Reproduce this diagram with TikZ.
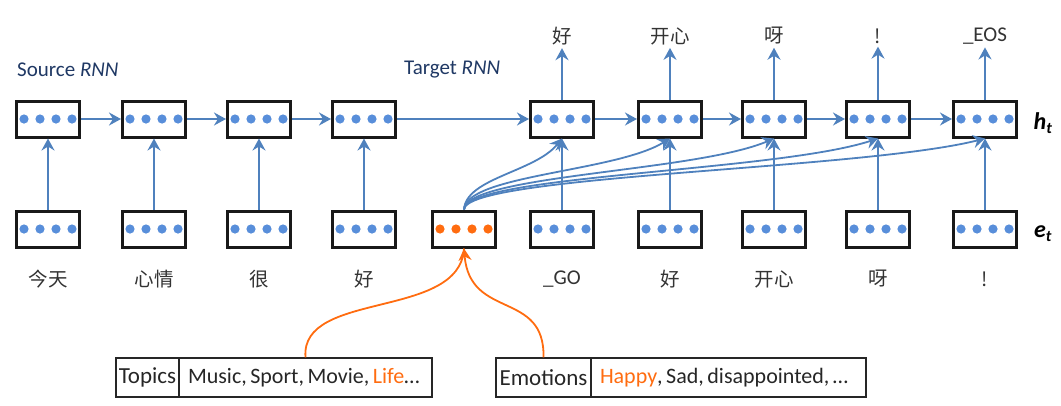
\documentclass[tikz,border=0pt]{standalone}
\usepackage{fontspec}
\setmainfont{Carlito}
\newfontfamily\cjk{Noto Sans CJK SC}
\usetikzlibrary{arrows.meta}
\definecolor{ablue}{RGB}{79,129,189}
\definecolor{dblue}{RGB}{88,142,218}
\definecolor{org}{RGB}{255,108,16}
\definecolor{navy}{RGB}{31,56,100}
\tikzset{
  cell/.style={draw=black!90, line width=3pt, minimum width=63pt, minimum height=36pt, inner sep=0pt, fill=white},
  arr/.style={draw=ablue, line width=2.4pt, -{Stealth[length=12pt,width=13pt,inset=4pt]}},
  farr/.style={draw=ablue, line width=1.8pt, -{Stealth[length=12pt,width=13pt,inset=4pt]}},
  oarr/.style={draw=org, line width=1.8pt, -{Stealth[length=12pt,width=13pt,inset=4pt]}},
  word/.style={font=\fontsize{19.5}{22}\selectfont\cjk, text=black!80, inner sep=3pt},
  lword/.style={font=\fontsize{21}{22}\selectfont, text=black!80, inner sep=3pt},
  lbl/.style={font=\fontsize{21}{24}\selectfont, text=navy, anchor=west, inner sep=0pt},
  side/.style={font=\fontsize{24}{26}\selectfont\bfseries\itshape, inner sep=0pt},
  tbox/.style={draw=black!85, line width=1.3pt, minimum height=39pt, inner sep=0pt, font=\fontsize{23}{26}\selectfont, text=black!85},
  vbox/.style={tbox, font=\fontsize{22}{26}\selectfont},
}
\newcommand\celldots[2]{\foreach \d in {-24,-8,8,24} \fill[#2] ([xshift=\d pt]#1.center) circle (4.6);}
\newcommand\lbox[2]{\makebox[#1][l]{\hspace{9pt}\spaceskip=0.16em plus 0pt #2}}
\begin{document}
\begin{tikzpicture}[x=1pt,y=-1pt]
\useasboundingbox (0,0) rectangle (1061,405);
% labels
\node[lbl] (srcl) at (17,70) {Source \textit{RNN}};
\node[lbl] (tgtl) at (404,70) {Target \textit{RNN}};
% source cells
\foreach \i/\x in {1/48,2/154,3/259,4/364}{
  \node[cell] (s\i) at (\x,119) {};
  \node[cell] (es\i) at (\x,229) {};
}
% target cells
\foreach \i/\x in {1/562,2/670,3/774,4/878,5/985}{
  \node[cell] (t\i) at (\x,119) {};
  \node[cell] (te\i) at (\x,229) {};
}
\node[cell] (o) at (464,229) {};
% words
\node[word] (w1) at (562,36) {好};
\node[word] (w2) at (670,36) {开心};
\node[word] (w3) at (774,36) {呀};
\node[word] (w4) at (878,36) {!};
\node[lword] (w5) at (985,36) {\_EOS};
\node[word] (b1) at (48,279) {今天};
\node[word] (b2) at (154,279) {心情};
\node[word] (b3) at (259,279) {很};
\node[word] (b4) at (364,279) {好};
\node[lword] (b5) at (562,279) {\_GO};
\node[word] (b6) at (670,279) {好};
\node[word] (b7) at (774,279) {开心};
\node[word] (b8) at (878,279) {呀};
\node[word] (b9) at (985,279) {!};
% side labels
\node[side] (ht) at (1043,123) {h\textsubscript{\fontsize{16}{17}\selectfont t}};
\node[side] (et) at (1043,234) {e\textsubscript{\fontsize{16}{17}\selectfont t}};
% arrows horizontal
\draw[arr] (s1.east) -- (s2.west);
\draw[arr] (s2.east) -- (s3.west);
\draw[arr] (s3.east) -- (s4.west);
\draw[arr] (s4.east) -- (t1.west);
\draw[arr] (t1.east) -- (t2.west);
\draw[arr] (t2.east) -- (t3.west);
\draw[arr] (t3.east) -- (t4.west);
\draw[arr] (t4.east) -- (t5.west);
% vertical
\foreach \i in {1,...,4}{ \draw[arr] (es\i.north) -- (s\i.south); }
\foreach \i in {1,...,5}{ \draw[arr] (te\i.north) -- (t\i.south); }
\foreach \i in {1,...,5}{ \draw[arr] (t\i.north) -- (w\i.south); }
% fan curves
\draw[farr] (o.north) .. controls (466,178) and (535,172) .. (t1.south);
\draw[farr] (o.north) .. controls (466,175) and (615,172) .. (t2.south);
\draw[farr] (o.north) .. controls (466,175) and (695,172) .. (t3.south);
\draw[farr] (o.north) .. controls (466,175) and (775,172) .. (t4.south);
\draw[farr] (o.north) .. controls (466,175) and (860,170) .. (t5.south);
% dots
\foreach \n in {s1,s2,s3,s4,es1,es2,es3,es4,t1,t2,t3,t4,t5,te1,te2,te3,te4,te5}{ \celldots{\n}{dblue} }
\celldots{o}{org}
% bottom boxes
\node[tbox, minimum width=63pt] (tp) at (147.5,377.5) {Topics};
\node[vbox, minimum width=253pt] (tpv) at (305.5,377.5) {\lbox{253pt}{Music, Sport, Movie, \textcolor{org}{Life}…}};
\node[tbox, minimum width=95pt] (em) at (543.5,377.5) {Emotions};
\node[vbox, minimum width=275pt] (emv) at (728.5,377.5) {\lbox{275pt}{\textcolor{org}{Happy}, Sad, disappointed, …}};
% orange curves
\draw[draw=org, line width=1.8pt] (tpv.north) .. controls (300,290) and (460,320) .. (o.south);
\draw[oarr] (em.north) .. controls (545,290) and (470,320) .. (o.south);
\end{tikzpicture}
\end{document}
